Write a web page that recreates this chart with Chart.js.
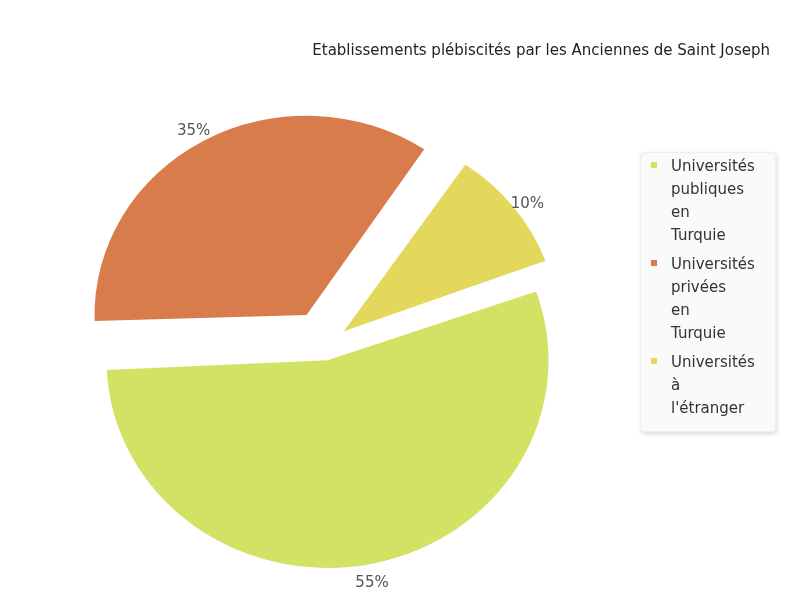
<html lang="fr">
<head>
    <meta charset="UTF-8">
    <title>Etablissements</title>
    <style>
        body { margin: 0; background: #fff; }
        #wrap { position: relative; width: 790px; height: 604px; }
        #viz { position: absolute; left: 0; top: 0; }
        .title {
            position: absolute; right: 20px; top: 41px;
            font: 15px/18px "DejaVu Sans", sans-serif; color: #222;
            white-space: nowrap;
        }
        .legend {
            position: absolute; left: 640px; top: 152px; width: 134px;
            padding: 2px 0 11px 0;
            background: #fafafa; border: 1px solid #eee; border-radius: 4px;
            box-shadow: 1px 2px 4px rgba(0,0,0,0.15);
            font: 15px/23px "DejaVu Sans", sans-serif; color: #333;
        }
        .legend-item { position: relative; padding-left: 30px; margin-top: 6px; }
        .legend-item:first-child { margin-top: 0; }
        .legend-item .box {
            position: absolute; left: 10px; top: 7px; width: 6px; height: 6px;
        }
    </style>
    <script src="https://cdn.jsdelivr.net/npm/chart.js"></script>
</head>
<body>
    <div id="wrap">
        <canvas id="viz" width="790" height="604"></canvas>
        <div class="title">Etablissements plébiscités par les Anciennes de Saint Joseph</div>
        <div class="legend" id="legend"></div>
    </div>

    <script>
        const categories = ['Universités publiques en Turquie', 'Universités privées en Turquie', "Universités à l'étranger"]
        const shares = [55, 35, 10]
        const shareLabels = ['55%', '35%', '10%']
        const colors = ['#d3e264', '#d87c4c', '#e3d85c']

        // the original pie is a bit flatter than wide, squash it vertically around its centre
        const squashY = 0.94
        const squash = {
            id: 'squash',
            beforeDatasetsDraw(chart) {
                const cy = (chart.chartArea.top + chart.chartArea.bottom) / 2
                chart.ctx.save()
                chart.ctx.translate(0, cy)
                chart.ctx.scale(1, squashY)
                chart.ctx.translate(0, -cy)
            },
            afterDatasetsDraw(chart) {
                chart.ctx.restore()
            }
        }

        // percentage text just outside each exploded slice
        const sliceLabels = {
            id: 'sliceLabels',
            afterDatasetsDraw(chart) {
                const ctx = chart.ctx
                const cy = (chart.chartArea.top + chart.chartArea.bottom) / 2
                const arcs = chart.getDatasetMeta(0).data
                ctx.save()
                ctx.font = '15px "DejaVu Sans", sans-serif'
                ctx.fillStyle = '#555'
                ctx.textAlign = 'center'
                ctx.textBaseline = 'top'
                arcs.forEach((a, i) => {
                    const mid = (a.startAngle + a.endAngle) / 2
                    const r = a.options.offset / 4 + a.outerRadius + 28
                    const x = a.x + Math.cos(mid) * r
                    const y = a.y + Math.sin(mid) * r
                    ctx.fillText(shareLabels[i], x, cy + (y - cy) * squashY)
                })
                ctx.restore()
            }
        }

        new Chart(document.getElementById('viz'), {
            type: 'pie',
            data: {
                labels: categories,
                datasets: [{
                    data: shares,
                    backgroundColor: colors,
                    borderWidth: 0,
                    offset: [64, 148, 98],
                    clip: false
                }]
            },
            options: {
                responsive: false,
                animation: false,
                rotation: 70,
                radius: 205,
                layout: { padding: { left: 0, right: 141, top: 87, bottom: 0 } },
                plugins: {
                    legend: { display: false },
                    tooltip: { enabled: false }
                }
            },
            plugins: [squash, sliceLabels]
        })

        const legend = document.getElementById('legend')
        categories.forEach((c, i) => {
            const item = document.createElement('div')
            item.className = 'legend-item'
            item.innerHTML = '<span class="box" style="background:' + colors[i] + '"></span>' + c.split(' ').join('<br>')
            legend.appendChild(item)
        })
    </script>
</body>
</html>
